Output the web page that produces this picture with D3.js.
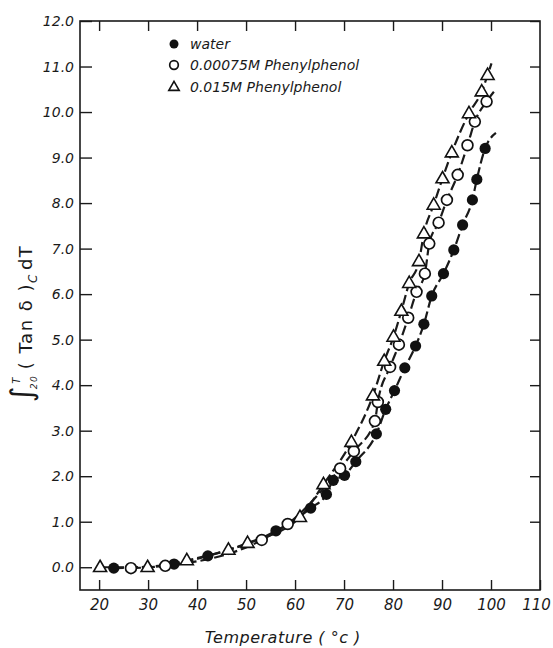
<!DOCTYPE html>
<html>
<head>
<meta charset="utf-8">
<script src="https://cdn.jsdelivr.net/npm/d3@7"></script>
<style>
  body { margin: 0; background: #fff; }
  text { font-family: "DejaVu Sans", sans-serif; font-style: italic; fill: #1a1a1a; }
</style>
</head>
<body>
<div id="graph"></div>
<script>
// series: temperature (°C) and integral value
var waterT   = [23.0, 35.3, 42.2, 56.1, 63.2, 66.4, 67.8, 70.1, 72.4, 76.6, 78.5, 80.3, 82.4, 84.6, 86.3, 87.9, 90.3, 92.4, 94.2, 96.2, 97.1, 98.8];
var waterV   = [-0.02, 0.07, 0.25, 0.80, 1.30, 1.60, 1.91, 2.02, 2.32, 2.93, 3.47, 3.88, 4.38, 4.86, 5.34, 5.96, 6.45, 6.97, 7.52, 8.07, 8.52, 9.20];
var lowT     = [26.5, 33.5, 53.2, 58.5, 69.2, 72.0, 76.3, 76.9, 79.4, 81.2, 83.1, 84.8, 86.5, 87.4, 89.3, 91.0, 93.2, 95.2, 96.7, 99.1];
var lowV     = [-0.02, 0.03, 0.60, 0.95, 2.17, 2.55, 3.21, 3.63, 4.40, 4.89, 5.48, 6.05, 6.45, 7.11, 7.57, 8.07, 8.62, 9.27, 9.79, 10.23];
var highT    = [20.2, 29.9, 37.9, 46.4, 50.3, 61.0, 65.8, 71.5, 75.9, 78.2, 80.1, 81.7, 83.3, 85.3, 86.3, 88.3, 90.1, 92.0, 95.5, 98.1, 99.3];
var highV    = [0.00, 0.00, 0.15, 0.38, 0.53, 1.10, 1.82, 2.75, 3.77, 4.53, 5.06, 5.63, 6.24, 6.72, 7.33, 7.96, 8.54, 9.11, 9.97, 10.45, 10.81];
// where each dashed curve stops (past the last point)
var curveEndT = [101.0, 101.0, 100.1];
var curveEndV = [9.54, 10.50, 11.07];

var seriesNames = ["water", "0.00075M Phenylphenol", "0.015M Phenylphenol"];
var xTicks = [20, 30, 40, 50, 60, 70, 80, 90, 100, 110];
var yTicks = [0, 1, 2, 3, 4, 5, 6, 7, 8, 9, 10, 11, 12];

var W = 553, H = 648;
var margin = {top: 21, right: 13, bottom: 58, left: 80},
    width = W - margin.left - margin.right,
    height = H - margin.top - margin.bottom;

var svg = d3.select("#graph").append("svg")
    .attr("width", W).attr("height", H)
    .append("g")
    .attr("transform", "translate(" + margin.left + "," + margin.top + ")");

var x = d3.scaleLinear().domain([16.1, 110]).range([0, width]);
var y = d3.scaleLinear().domain([-0.5, 12]).range([height, 0]);

// Axes (ticks point inward)
var gL = svg.append("g")
    .call(d3.axisLeft(y).tickValues(yTicks).tickSize(-12).tickPadding(6).tickFormat(d3.format(".1f")));
var gR = svg.append("g").attr("transform", "translate(" + width + ",0)")
    .call(d3.axisRight(y).tickValues(yTicks.slice(1)).tickSize(-10).tickFormat(""));
var gT = svg.append("g")
    .call(d3.axisTop(x).tickValues(xTicks.slice(0, -1)).tickSize(-10).tickFormat(""));
var gB = svg.append("g").attr("transform", "translate(0," + height + ")")
    .call(d3.axisBottom(x).tickValues(xTicks).tickSize(-10).tickPadding(9));

[gL, gR, gT, gB].forEach(function (g) {
    g.select(".domain").remove();
    g.selectAll("line").attr("stroke", "#1a1a1a").attr("stroke-width", 1.4);
    g.selectAll("text").attr("font-size", "14px").attr("font-family", null);
});
gB.selectAll("text").attr("font-size", "15px");
gB.selectAll(".tick").filter(d => d === 110).select("text").attr("dx", "-4");

svg.append("rect")
    .attr("width", width).attr("height", height)
    .attr("fill", "none").attr("stroke", "#1a1a1a").attr("stroke-width", 1.6);

// Dashed curves
var sets = [
    {T: waterT, V: waterV, kind: "filled"},
    {T: lowT, V: lowV, kind: "open"},
    {T: highT, V: highV, kind: "tri"}
];
var line = d3.line().x(d => x(d[0])).y(d => y(d[1])).curve(d3.curveMonotoneX);

sets.forEach(function (s, i) {
    var pts = s.T.map((t, j) => [t, s.V[j]]);
    pts.push([curveEndT[i], curveEndV[i]]);
    svg.append("path")
        .attr("d", line(pts))
        .attr("fill", "none")
        .attr("stroke", "#1a1a1a")
        .attr("stroke-width", 2.2)
        .attr("stroke-dasharray", "10,4");
});

function triPath(cx, cy, s) {
    var h = s * 0.866;
    return "M" + cx + "," + (cy - h * 0.62) + "L" + (cx + s / 2) + "," + (cy + h * 0.38) +
        "L" + (cx - s / 2) + "," + (cy + h * 0.38) + "Z";
}

function marker(g, kind, cx, cy, scale) {
    if (kind === "filled") {
        g.append("circle").attr("cx", cx).attr("cy", cy).attr("r", 5.6 * scale).attr("fill", "#111");
    } else if (kind === "open") {
        g.append("circle").attr("cx", cx).attr("cy", cy).attr("r", 5.4 * scale)
            .attr("fill", "#fff").attr("stroke", "#111").attr("stroke-width", 1.7);
    } else {
        g.append("path").attr("d", triPath(cx, cy, 13 * scale))
            .attr("fill", "#fff").attr("stroke", "#111").attr("stroke-width", 1.6);
    }
}

// Markers
var mk = svg.append("g");
sets.forEach(function (s) {
    s.T.forEach(function (t, j) { marker(mk, s.kind, x(t), y(s.V[j]), 1); });
});

// Legend
var lg = svg.append("g");
var legendY = [23, 44, 66];
sets.forEach(function (s, i) {
    marker(lg, s.kind, 94, legendY[i], 0.8);
    lg.append("text").attr("x", 110).attr("y", legendY[i]).attr("dy", "0.35em")
        .attr("font-size", "14px").text(seriesNames[i]);
});

// Axis titles
svg.append("text")
    .attr("x", x(57.5)).attr("y", height + 53)
    .attr("text-anchor", "middle").attr("font-size", "16px").attr("letter-spacing", "0.5px")
    .text("Temperature ( °c )");

var yl = svg.append("text")
    .attr("transform", "translate(-48," + (height / 2 + 18) + ") rotate(-90)")
    .attr("text-anchor", "middle").attr("font-size", "18px").attr("font-style", "normal")
    .attr("letter-spacing", "1.5px");
yl.append("tspan").attr("font-size", "30px").attr("font-style", "normal").text("∫");
yl.append("tspan").attr("font-size", "9px").attr("dy", "5").attr("dx", "-4").text("20");
yl.append("tspan").attr("font-size", "10px").attr("dy", "-17").attr("dx", "-9").text("T");
yl.append("tspan").attr("dy", "12").attr("dx", "7").attr("font-style", "normal").text("( Tan δ )");
yl.append("tspan").attr("font-size", "12px").attr("dy", "5").text("C");
yl.append("tspan").attr("dy", "-5").attr("dx", "3").attr("font-style", "normal").text("dT");
</script>
</body>
</html>
